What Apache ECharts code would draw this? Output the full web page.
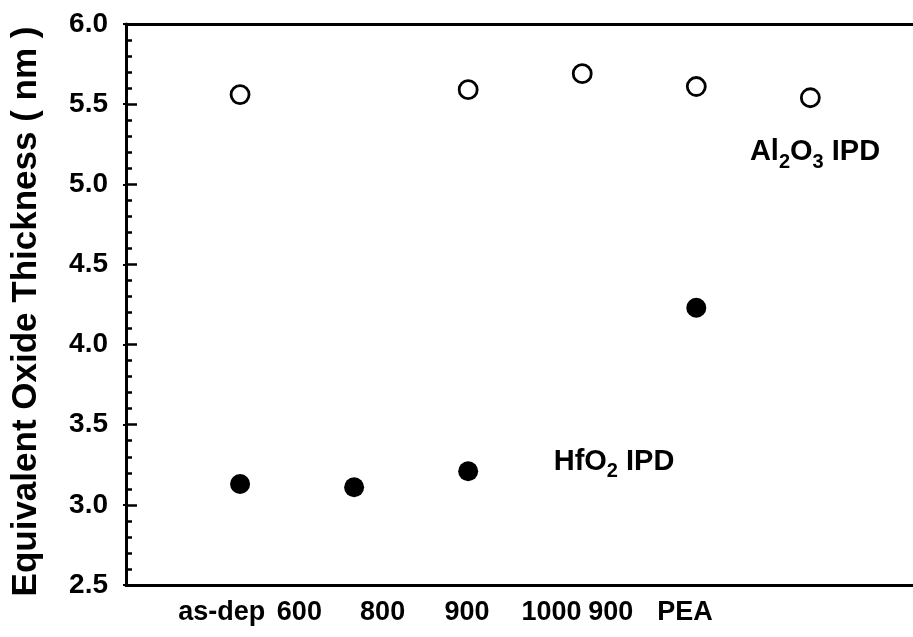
<!DOCTYPE html>
<html><head><meta charset="utf-8">
<script src="https://cdn.jsdelivr.net/npm/echarts@6/dist/echarts.min.js"></script>
<style>html,body{margin:0;padding:0;background:#fff}#c{width:913px;height:637px}</style>
</head><body><div id="c"></div>
<script>
// x tick labels (as printed under the axis) and where they sit on the x scale
const tickLabels = ['as-dep', '600', '800', '900', '1000', '900', 'PEA'];
const tickLabelPos = [0.84, 1.52, 2.25, 2.99, 3.73, 4.25, 4.90];
// Al2O3 IPD (open circles)
const al2o3X = [1, 3, 4, 5, 6];
const al2o3Y = [5.56, 5.59, 5.69, 5.61, 5.54];
// HfO2 IPD (filled circles)
const hfo2X = [1, 2, 3, 5];
const hfo2Y = [3.13, 3.11, 3.21, 4.23];
// annotation anchors (data units)
const al2o3Note = [5.47, 5.20];
const hfo2Note = [3.75, 3.27];

const FONT = '"Liberation Sans", Arial, sans-serif';
const NARROW = '"Liberation Sans Narrow", "Arial Narrow", "Liberation Sans", sans-serif';

const chart = echarts.init(document.getElementById('c'), null, {renderer: 'canvas'});

const richNote = {
  a: {fontFamily: FONT, fontWeight: 'bold', fontSize: 29, color: '#000', lineHeight: 40, verticalAlign: 'middle'},
  s: {fontFamily: FONT, fontWeight: 'bold', fontSize: 20, color: '#000', lineHeight: 40, verticalAlign: 'bottom'}
};

chart.setOption({
  animation: false,
  backgroundColor: '#fff',
  grid: {left: 126, right: 0, top: 24, bottom: 52, containLabel: false},
  xAxis: [{
    type: 'value', min: 0, max: 6.90, position: 'bottom',
    axisLine: {show: true, onZero: false, lineStyle: {color: '#000', width: 3}},
    axisTick: {show: false},
    splitLine: {show: false},
    axisLabel: {
      show: true, margin: 14, customValues: tickLabelPos,
      fontFamily: NARROW, fontWeight: 'bold', fontSize: 27, color: '#000',
      formatter: function (v) {
        let best = 0, d = 1e9;
        tickLabelPos.forEach((p, i) => { if (Math.abs(p - v) < d) { d = Math.abs(p - v); best = i; } });
        return tickLabels[best];
      }
    }
  }, {
    type: 'value', min: 0, max: 6.90, position: 'top',
    axisLine: {show: true, onZero: false, lineStyle: {color: '#000', width: 3}},
    axisTick: {show: false}, axisLabel: {show: false}, splitLine: {show: false}
  }],
  yAxis: [{
    type: 'value', min: 2.5, max: 6.0, interval: 0.5, position: 'left',
    name: 'Equivalent Oxide Thickness ( nm )', nameLocation: 'middle', nameGap: 82,
    nameTextStyle: {fontFamily: FONT, fontWeight: 'bold', fontSize: 35, color: '#000', padding: [0, 14, 0, 0]},
    axisLine: {show: true, onZero: false, lineStyle: {color: '#000', width: 3}},
    axisTick: {show: true, inside: true, length: 11, lineStyle: {color: '#000', width: 2.5}},
    minorTick: {show: true, splitNumber: 5, length: 6, lineStyle: {color: '#000', width: 2.5}},
    splitLine: {show: false},
    axisLabel: {margin: 18, fontFamily: FONT, fontWeight: 'bold', fontSize: 28, color: '#000',
      formatter: v => v.toFixed(1)}
  }, {
    type: 'value', min: 2.5, max: 6.0, interval: 0.5, position: 'right',
    axisLine: {show: false},
    axisTick: {show: true, inside: true, length: 3, lineStyle: {color: '#000', width: 2}},
    axisLabel: {show: false}, splitLine: {show: false}
  }],
  series: [{
    name: 'Al2O3 IPD', type: 'scatter', xAxisIndex: 0, yAxisIndex: 0,
    data: al2o3X.map((x, i) => [x, al2o3Y[i]]),
    symbol: 'circle', symbolSize: 18,
    itemStyle: {color: '#fff', borderColor: '#000', borderWidth: 2.8, opacity: 1},
    markPoint: {
      symbol: 'circle', symbolSize: 0, silent: true,
      label: {show: true, position: 'right', distance: 0,
        formatter: '{a|Al}{s|2}{a|O}{s|3}{a| IPD}', rich: richNote},
      data: [{coord: al2o3Note}]
    }
  }, {
    name: 'HfO2 IPD', type: 'scatter', xAxisIndex: 0, yAxisIndex: 0,
    data: hfo2X.map((x, i) => [x, hfo2Y[i]]),
    symbol: 'circle', symbolSize: 20,
    itemStyle: {color: '#000', borderColor: '#000', borderWidth: 0, opacity: 1},
    markPoint: {
      symbol: 'circle', symbolSize: 0, silent: true,
      label: {show: true, position: 'right', distance: 0,
        formatter: '{a|HfO}{s|2}{a| IPD}', rich: richNote},
      data: [{coord: hfo2Note}]
    }
  }]
});
</script>
</body></html>
